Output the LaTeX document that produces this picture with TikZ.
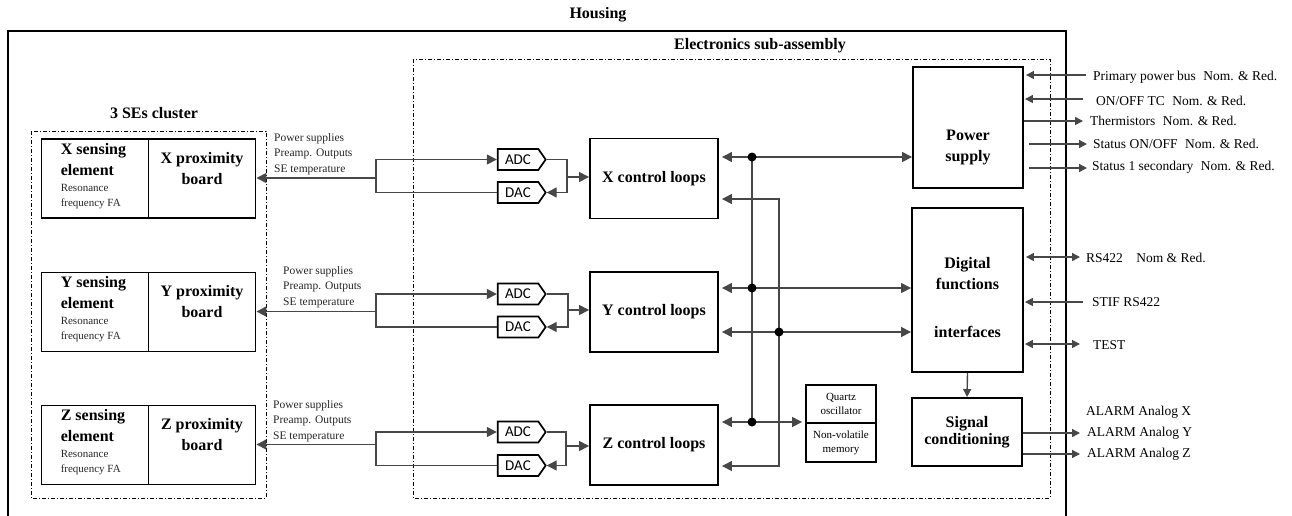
\documentclass[tikz,border=0pt]{standalone}
\usepackage{fontspec}
\setmainfont{Liberation Serif}
\newfontfamily\convfont{Carlito}
\usetikzlibrary{arrows.meta,shapes.symbols,calc}

\begin{document}
\begin{tikzpicture}[x=1pt,y=-1pt,
  >={Triangle[length=10pt,width=10pt]},
  smalltip/.style={>={Triangle[length=8pt,width=8pt]}},
  cell/.style={draw, line width=1.9pt, inner sep=0pt},
  box/.style={cell, align=center, font=\bfseries\fontsize{16}{19}\selectfont},
  boldtxt/.style={inner sep=0pt, align=center, font=\bfseries\fontsize{16}{21}\selectfont},
  smalltxt/.style={inner sep=0pt, align=left, text=black!85, font=\fontsize{11.5}{15.5}\selectfont},
  exttxt/.style={inner sep=0pt, anchor=west, font=\fontsize{13.5}{16}\selectfont},
  conv/.style={signal, signal to=east, signal pointer angle=110, draw, line width=1.7pt,
    minimum width=48pt, minimum height=21pt, inner sep=0pt, font=\convfont\fontsize{15}{15}\selectfont},
  wire/.style={line width=1.4pt, draw=black!72},
  groupline/.style={line width=0.9pt, dash pattern=on 4pt off 2pt on 1pt off 2pt},
  junction/.style={circle, fill=black, inner sep=0pt, minimum size=9pt},
]
\useasboundingbox (0,0) rectangle (1292,515);

% enclosures
\draw[line width=2.2pt] (8,516) -- (8,31) -- (1066,31) -- (1066,516);
\node[boldtxt] (housingT) at (598,15) {Housing};
\draw[groupline] (413,59) rectangle (1050,498);
\node[boldtxt] (esaT) at (760,46) {Electronics sub-assembly};
\draw[groupline] (31,131) rectangle (266,498);
\node[boldtxt] (clusterT) at (154,113) {3 SEs cluster};

% sensing elements and proximity boards
\foreach \a/\cy/\lx/\ly/\adcy/\dacy/\ary/\rbx in {X/178.5/274/133/159.5/192.5/177/567, Y/312/283/266/294/327/310/568, Z/445/273/400/432/465.5/446/566}{
  \node[cell, minimum width=107pt, minimum height=79pt] (se\a) at (95,\cy) {};
  \node[cell, minimum width=107pt, minimum height=79pt] (pb\a) at (202,\cy) {};
  \node[boldtxt, align=left, anchor=north west] (seT\a) at ($(se\a.north west)+(20,5)$) {\a\ sensing\\element};
  \node[smalltxt, anchor=north west, font=\fontsize{11}{15}\selectfont] (seS\a) at ($(se\a.north west)+(20,46)$) {Resonance\\frequency FA};
  \node[boldtxt] (pbT\a) at ($(pb\a.center)+(0,-10)$) {\a\ proximity\\board};
  \node[smalltxt, anchor=north west] (sig\a) at (\lx,\ly) {Power supplies\\Preamp. Outputs\\SE temperature};
  % converters and control loops
  \node[conv] (adc\a) at (518,\adcy) {ADC};
  \node[conv] (dac\a) at (518,\dacy) {DAC};
  \node[box, minimum width=128pt, minimum height=80pt] (cl\a) at (654,\cy) {\a\ control loops};
  \coordinate (lb\a) at (376,{\cy-0.5});
  \coordinate (rb\a) at (\rbx,\ary);
  \draw[wire,->] (lb\a) -- (pb\a.east |- lb\a);
  \draw[wire,->] (lb\a) |- (adc\a.west);
  \draw[wire] (lb\a) |- (dac\a.west);
  \draw[wire,->] (adc\a.east) -| (rb\a) |- (dac\a.east);
  \draw[wire,->] (rb\a) -- (cl\a.west |- rb\a);
}

% quartz oscillator and memory
\node[cell, minimum width=70pt, minimum height=38pt, align=center, font=\fontsize{11}{14}\selectfont] (qo) at (841,404) {Quartz\\oscillator};
\node[cell, minimum width=70pt, minimum height=39pt, align=center, font=\fontsize{11}{14}\selectfont] (nvm) at (841,442.5) {Non-volatile\\memory};

% power supply, digital functions, signal conditioning
\node[cell, minimum width=110pt, minimum height=121pt] (ps) at (968,127.5) {};
\node[boldtxt] (psT) at (968,147) {Power\\supply};
\node[cell, minimum width=111pt, minimum height=164pt] (df) at (967.5,290) {};
\node[boldtxt] (dfT) at (967.5,298) {Digital\\functions\\[27pt]interfaces};
\node[box, minimum width=110pt, minimum height=68pt, font=\bfseries\fontsize{16}{17}\selectfont] (sc) at (967,432) {Signal\\conditioning};
\draw[wire,->,smalltip] (df.south) -- (sc.north);

% internal buses
\coordinate (jA1) at (752,157);
\coordinate (jA2) at (752,288);
\coordinate (jA3) at (752,422);
\coordinate (kB1) at (779,199);
\coordinate (jB2) at (779,332);
\coordinate (kB3) at (779,466);
\draw[wire,<->,shorten <=3pt] (clX.east |- jA1) -- (ps.west |- jA1);
\draw[wire,<->,shorten <=3pt] (clY.east |- jA2) -- (df.west |- jA2);
\draw[wire,<->,shorten <=3pt,shorten >=3pt] (clZ.east |- jA3) -- (qo.west |- jA3);
\draw[wire] (jA1) -- (jA3);
\draw[wire,<->,shorten <=3pt] (clY.east |- jB2) -- (df.west |- jB2);
\draw[wire,<->,shorten <=3pt,shorten >=3pt] (clX.east |- kB1) -- (kB1) -- (kB3) -- (clZ.east |- kB3);
\foreach \j in {jA1,jA2,jA3,jB2}{ \node[junction] at (\j) {}; }

% external interfaces
\coordinate (ePri) at (1086,75);
\coordinate (eOn) at (1083,99);
\coordinate (eTh) at (1083,121);
\coordinate (eSt) at (1087,144);
\coordinate (eSec) at (1087,168);
\coordinate (eRs) at (1080,257);
\coordinate (eStif) at (1083,302);
\coordinate (eTest) at (1080,344);
\coordinate (eAy) at (1080,433);
\coordinate (eAz) at (1080,454);
\begin{scope}[smalltip]
\draw[wire,->,shorten >=2pt] (ePri) -- (ps.east |- ePri);
\draw[wire,->,shorten >=1pt] (eOn) -- (ps.east |- eOn);
\draw[wire,->] (ps.east |- eTh) -- (eTh);
\draw[wire,->,shorten <=5pt] (ps.east |- eSt) -- (eSt);
\draw[wire,->,shorten <=5pt] (ps.east |- eSec) -- (eSec);
\draw[wire,<->,shorten <=2pt] (df.east |- eRs) -- (eRs);
\draw[wire,->,shorten >=1pt] (eStif) -- (df.east |- eStif);
\draw[wire,<->,shorten <=1pt] (df.east |- eTest) -- (eTest);
\draw[wire,->] (sc.east |- eAy) -- (eAy);
\draw[wire,->] (sc.east |- eAz) -- (eAz);
\end{scope}

\node[exttxt] (tPri) at (1093,77) {Primary power bus\hspace{0.3em} Nom. \& Red.};
\node[exttxt] (tOn) at (1096,101) {ON/OFF TC\hspace{0.3em} Nom. \& Red.};
\node[exttxt] (tTh) at (1090,121) {Thermistors\hspace{0.3em} Nom. \& Red.};
\node[exttxt] (tSt) at (1093,144) {Status ON/OFF\hspace{0.3em} Nom. \& Red.};
\node[exttxt] (tSec) at (1092,167) {Status 1 secondary\hspace{0.3em} Nom. \& Red.};
\node[exttxt] (tRs) at (1086,258) {RS422\hspace{10pt} Nom \& Red.};
\node[exttxt] (tStif) at (1092,302) {STIF RS422};
\node[exttxt] (tTest) at (1093,345) {TEST};
\node[exttxt] (tAx) at (1086,412) {ALARM Analog X};
\node[exttxt] (tAy) at (1087,433) {ALARM Analog Y};
\node[exttxt] (tAz) at (1087,454) {ALARM Analog Z};
\end{tikzpicture}
\end{document}
